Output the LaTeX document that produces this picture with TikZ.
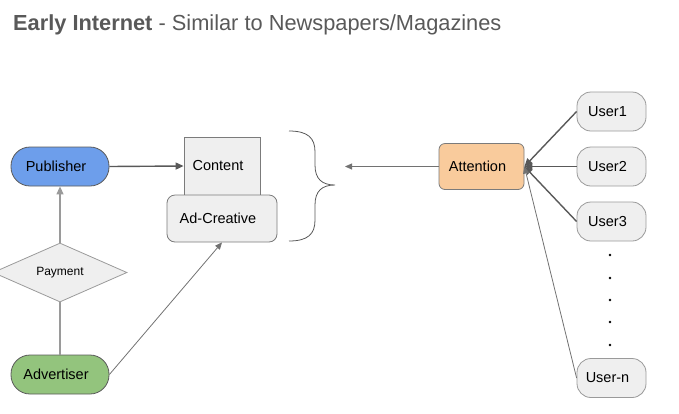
\documentclass[tikz,border=0pt]{standalone}
\usepackage{fontspec}
\setmainfont{Liberation Sans}
\usetikzlibrary{arrows.meta,shapes.geometric}
\definecolor{pubblue}{HTML}{6D9EEB}
\definecolor{advgreen}{HTML}{93C47D}
\definecolor{attorange}{HTML}{F9CB9C}
\definecolor{boxgray}{HTML}{EFEFEF}
\definecolor{linegray}{HTML}{595959}
\definecolor{bordergray}{HTML}{9A9A9A}
\definecolor{darkborder}{HTML}{5A5A5A}
\definecolor{titlegray}{HTML}{595959}
\begin{document}
\begin{tikzpicture}[x=1pt,y=-1pt,
  lbl/.style={font=\fontsize{14.5}{17}\selectfont, text=black, execute at begin node={\hspace*{-8pt}}},
  pill/.style={lbl, draw=darkborder, line width=0.8pt, rounded corners=19pt,
    minimum width=98pt, minimum height=39pt, inner sep=0pt},
  userbox/.style={lbl, draw=bordergray, fill=boxgray, line width=0.8pt, rounded corners=14pt,
    minimum width=69pt, minimum height=39pt, inner sep=0pt},
  graybox/.style={lbl, draw=darkborder!80, fill=boxgray, line width=0.8pt, inner sep=0pt},
  arr/.style={draw=linegray, line width=1.4pt, -{Triangle[length=8pt,width=7pt]}},
  thinarr/.style={draw=linegray!85, line width=0.8pt, -{Triangle[length=7pt,width=6pt]}},
  dotmark/.style={circle, fill=black, inner sep=0pt, minimum size=2.6pt}
]
\useasboundingbox (0,0) rectangle (679,413);

% title
\node[anchor=base west, text=titlegray, inner sep=0pt, font=\fontsize{21.8}{25}\selectfont]
  (title) at (13,30) {\textbf{Early Internet} - Similar to Newspapers/Magazines};

% left side
\node[pill, fill=pubblue] (pub) at (60,166.5) {Publisher};
\node[pill, fill=advgreen] (adv) at (60,374.5) {Advertiser};
\node[diamond, draw=bordergray, fill=boxgray, line width=0.8pt, inner sep=0pt,
  minimum width=134pt, minimum height=59pt, font=\fontsize{12}{14}\selectfont]
  (pay) at (60,272.5) {Payment};

\node[graybox, minimum width=76pt, minimum height=58pt] (content) at (222,166) {Content};
\node[graybox, rounded corners=8pt, minimum width=110pt, minimum height=47pt] (adcr) at (222,218.5) {Ad-Creative};

% brace
\draw[draw=linegray, line width=0.8pt] (289,131)
  .. controls (308,131) and (315,138) .. (315,152) -- (315,165)
  .. controls (315,179) and (322,185) .. (335,185)
  .. controls (322,185) and (315,191) .. (315,205) -- (315,220)
  .. controls (315,234) and (308,241) .. (289,241);
\coordinate (bracetip) at (345,166.5);

% right side
\node[lbl, draw=darkborder!80, fill=attorange, line width=0.8pt, rounded corners=6pt,
  minimum width=85pt, minimum height=46pt, inner sep=0pt] (att) at (481.5,166.5) {Attention};

\node[userbox] (u1) at (611.5,111.5) {User1};
\node[userbox] (u2) at (611.5,166.5) {User2};
\node[userbox] (u3) at (611.5,221.5) {User3};
\node[userbox] (un) at (611.5,378) {User-n};

\foreach \y/\n in {255/d1,278/d2,300/d3,322/d4,345/d5}
  \node[dotmark] (\n) at (610,\y) {};

% connectors
\draw[arr] (pub.east) -- (content.west);
\draw[draw=bordergray, line width=1.3pt, -{Triangle[length=8pt,width=7pt]}] (pay.north) -- (pub.south);
\draw[draw=bordergray, line width=1.3pt] (adv.north) -- (pay.south);
\draw[thinarr] (adv.east) -- (adcr.south);
\draw[thinarr] (att.west) -- (bracetip);
\draw[arr] (u1.west) -- (att.east);
\draw[arr] (u2.west) -- (att.east);
\draw[arr] (u3.west) -- (att.east);
\draw[thinarr] (un.west) -- (att.east);
\end{tikzpicture}
\end{document}
